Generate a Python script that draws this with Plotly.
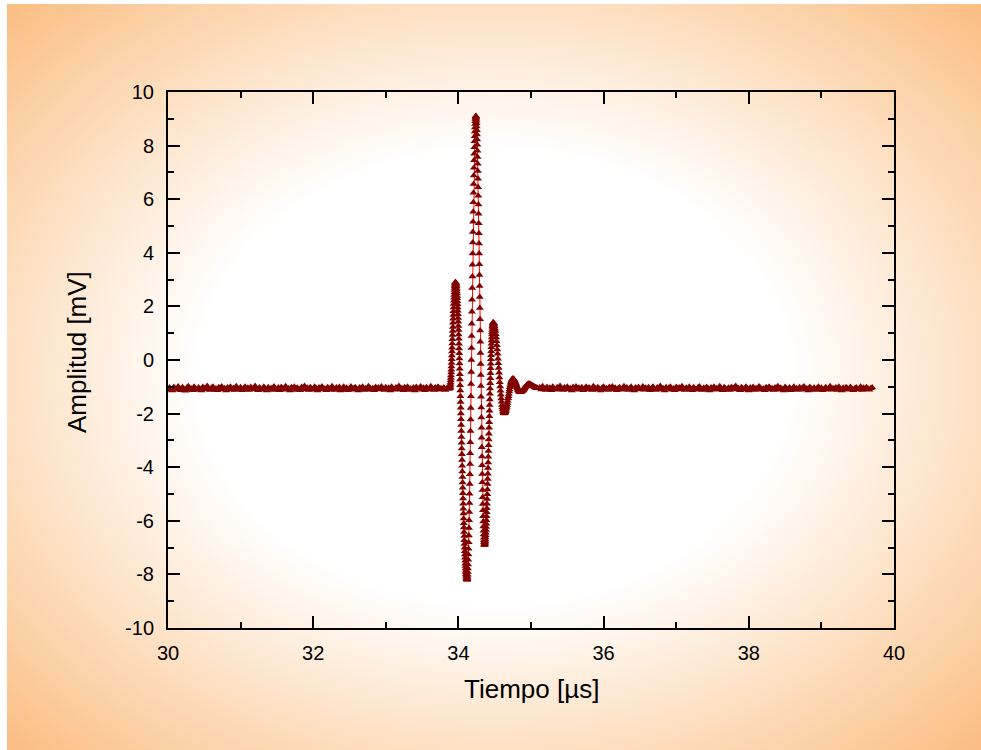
import base64

import numpy as np
import plotly.graph_objects as go

# ---------------------------------------------------------------------------
# Recorded waveform (amplitude in mV), stored per acquisition window.
# Each window has its own start time and sample interval (in µs).
# ---------------------------------------------------------------------------

# quiet baseline before the echo, 30.00 -> 33.84 µs, every 0.02 µs
PRE_T0, PRE_DT = 30.00, 0.02
amp_pre = [
    -1.12, -1.03, -1.09, -1.14, -1.01, -1.07, -1.11, -0.99, -1.05, -1.13,
    -1.02, -1.08, -1.15, -1.04, -0.98, -1.10, -1.06, -1.13, -1.00, -1.08,
    -1.12, -1.03, -1.07, -1.14, -1.01, -1.05, -1.10, -0.97, -1.08, -1.12,
    -1.04, -1.00, -1.11, -1.06, -1.13, -1.02, -1.08, -0.99, -1.10, -1.05,
    -1.14, -1.03, -1.07, -1.00, -1.11, -1.05, -1.12, -0.98, -1.06, -1.09,
    -1.02, -1.13, -1.07, -1.00, -1.10, -1.04, -1.12, -1.01, -1.08, -1.05,
    -0.97, -1.09, -1.13, -1.03, -1.07, -1.11, -1.00, -1.06, -1.14, -1.02,
    -1.08, -1.05, -1.12, -0.99, -1.07, -1.10, -1.03, -1.13, -1.01, -1.06,
    -1.09, -0.98, -1.11, -1.05, -1.14, -1.02, -1.07, -1.00, -1.12, -1.04,
    -1.08, -1.13, -1.01, -1.06, -0.97, -1.10, -1.04, -1.12, -1.02, -1.07,
    -1.11, -1.00, -1.05, -1.14, -1.03, -1.08, -0.99, -1.10, -1.06, -1.13,
    -1.02, -1.07, -1.11, -0.98, -1.05, -1.12, -1.03, -1.09, -1.01, -1.14,
    -1.06, -1.00, -1.10, -1.04, -1.13, -1.07, -0.99, -1.11, -1.05, -1.02,
    -1.09, -1.14, -1.03, -1.07, -1.00, -1.12, -1.06, -1.10, -0.98, -1.04,
    -1.11, -1.05, -1.13, -1.01, -1.08, -1.03, -1.10, -0.99, -1.06, -1.12,
    -1.02, -1.09, -1.04, -1.14, -1.00, -1.07, -1.11, -1.03, -1.08, -0.97,
    -1.10, -1.05, -1.13, -1.02, -1.07, -1.00, -1.12, -1.06, -1.09, -1.03,
    -1.14, -1.01, -1.08, -1.05, -0.99, -1.11, -1.04, -1.13, -1.02, -1.07,
    -1.10, -0.98, -1.06, -1.12, -1.03, -1.09, -1.00, -1.11, -1.05, -1.08,
    -1.03, -1.12, -1.06,
]

# main echo, 33.86 -> 34.48 µs, every 0.002 µs
PULSE_T0, PULSE_DT = 33.86, 0.002
amp_pulse = [
    -1.06, -1.04, -1.05, -1.07, -1.05, -1.03, -1.05, -1.06, -1.04, -1.05,
    -1.05,
    -1.04, -1.03, -1.00, -0.95, -0.90, -0.84, -0.76, -0.67, -0.58, -0.47,
    -0.36, -0.24, -0.11, 0.03, 0.17, 0.32, 0.46, 0.62, 0.77, 0.93,
    1.08, 1.23, 1.39, 1.54, 1.68, 1.82, 1.96, 2.09, 2.21, 2.32,
    2.43, 2.52, 2.61, 2.69, 2.75, 2.80, 2.85, 2.88, 2.89, 2.90,
    2.89, 2.88, 2.86, 2.83, 2.79, 2.75, 2.69, 2.63, 2.56, 2.48,
    2.39, 2.30, 2.19, 2.08, 1.96, 1.84, 1.71, 1.57, 1.43, 1.27,
    1.12, 0.95, 0.79, 0.61, 0.43, 0.25, 0.06, -0.13, -0.33, -0.53,
    -0.73, -0.94, -1.14, -1.35, -1.57, -1.78, -2.00, -2.21, -2.43, -2.65,
    -2.87, -3.09, -3.30, -3.52, -3.73, -3.95, -4.16, -4.37, -4.57, -4.77,
    -4.97, -5.17, -5.36, -5.55, -5.73, -5.91, -6.09, -6.25, -6.42, -6.57,
    -6.73, -6.87, -7.01, -7.14, -7.26, -7.38, -7.49, -7.60, -7.69, -7.78,
    -7.86, -7.93, -7.99, -8.05, -8.09, -8.13, -8.16, -8.18, -8.19, -8.20,
    -8.19, -8.15, -8.09, -8.01, -7.91, -7.78, -7.63, -7.45, -7.26, -7.04,
    -6.80, -6.55, -6.27, -5.98, -5.67, -5.34, -4.99, -4.63, -4.26, -3.88,
    -3.48, -3.07, -2.65, -2.22, -1.79, -1.35, -0.90, -0.45, 0.00, 0.45,
    0.90, 1.35, 1.80, 2.25, 2.69, 3.12, 3.55, 3.97, 4.38, 4.78,
    5.16, 5.53, 5.89, 6.24, 6.57, 6.88, 7.17, 7.45, 7.70, 7.94,
    8.16, 8.35, 8.53, 8.68, 8.81, 8.91, 8.99, 9.05, 9.09, 9.10,
    9.09, 9.06, 9.00, 8.93, 8.83, 8.71, 8.57, 8.41, 8.23, 8.03,
    7.81, 7.57, 7.32, 7.05, 6.76, 6.45, 6.13, 5.80, 5.46, 5.10,
    4.73, 4.35, 3.97, 3.57, 3.17, 2.76, 2.35, 1.94, 1.52, 1.10,
    0.68, 0.26, -0.15, -0.56, -0.97, -1.37, -1.77, -2.15, -2.53, -2.90,
    -3.26, -3.60, -3.93, -4.25, -4.56, -4.85, -5.12, -5.37, -5.61, -5.83,
    -6.03, -6.21, -6.37, -6.51, -6.63, -6.73, -6.80, -6.86, -6.89, -6.90,
    -6.89, -6.88, -6.85, -6.81, -6.76, -6.70, -6.62, -6.54, -6.45, -6.34,
    -6.23, -6.11, -5.98, -5.83, -5.68, -5.53, -5.36, -5.19, -5.01, -4.83,
    -4.63, -4.44, -4.24, -4.03, -3.82, -3.61, -3.40, -3.18, -2.97, -2.75,
    -2.53, -2.32, -2.10, -1.89, -1.68, -1.47, -1.26, -1.06, -0.87, -0.68,
    -0.49, -0.31, -0.14, 0.03, 0.18, 0.33, 0.48, 0.61, 0.73, 0.84,
    0.95, 1.04, 1.12, 1.20, 1.26, 1.31, 1.35, 1.38, 1.39, 1.40,
]

# ring-down after the echo, 34.485 -> 35.09 µs, every 0.005 µs
RING_T0, RING_DT = 34.485, 0.005
amp_ring = [
    1.39, 1.36, 1.32, 1.25, 1.17, 1.08, 0.96, 0.84, 0.70, 0.55,
    0.39, 0.23, 0.05, -0.12, -0.30, -0.48, -0.65, -0.83, -0.99, -1.15,
    -1.30, -1.44, -1.56, -1.68, -1.77, -1.85, -1.92, -1.96, -1.99, -2.00,
    -1.99, -1.98, -1.95, -1.91, -1.87, -1.81, -1.75, -1.68, -1.60, -1.52,
    -1.43, -1.35, -1.27, -1.18, -1.10, -1.02, -0.95, -0.89, -0.83, -0.79,
    -0.75, -0.72, -0.71, -0.70,
    -0.70, -0.71, -0.73, -0.75, -0.77, -0.80, -0.84, -0.87, -0.91, -0.95,
    -0.99, -1.03, -1.06, -1.10, -1.13, -1.15, -1.17, -1.19, -1.20, -1.20,
    -1.20, -1.19, -1.19, -1.18, -1.17, -1.16, -1.14, -1.12, -1.11, -1.09,
    -1.07, -1.05, -1.03, -1.01, -0.99, -0.98, -0.96, -0.94, -0.93, -0.92,
    -0.91, -0.90, -0.90, -0.90,
    -0.90, -0.90, -0.91, -0.91, -0.92, -0.92, -0.93, -0.94, -0.95, -0.96,
    -0.97, -0.98, -0.98, -0.99, -1.00, -1.01, -1.02, -1.03, -1.03, -1.04,
    -1.04, -1.05, -1.05, -1.05,
]

# quiet baseline after the echo, 35.12 -> 39.70 µs, every 0.02 µs
POST_T0, POST_DT = 35.12, 0.02
amp_post = [
    -1.03, -1.10, -0.98, -1.06, -1.12, -1.01, -1.08, -1.04, -1.13, -1.00,
    -1.07, -1.11, -1.02, -1.09, -0.97, -1.05, -1.12, -1.03, -1.08, -1.00,
    -1.10, -1.05, -1.14, -1.01, -1.07, -0.99, -1.11, -1.04, -1.09, -1.02,
    -1.13, -1.06, -1.00, -1.10, -1.03, -1.08, -1.12, -0.98, -1.05, -1.11,
    -1.02, -1.07, -1.14, -1.04, -1.00, -1.09, -1.05, -1.12, -1.01, -1.07,
    -0.99, -1.10, -1.04, -1.13, -1.06, -1.02, -1.11, -1.07, -0.98, -1.08,
    -1.03, -1.12, -1.05, -1.00, -1.09, -1.14, -1.03, -1.07, -1.01, -1.10,
    -1.06, -0.99, -1.11, -1.04, -1.08, -1.02, -1.13, -1.05, -1.00, -1.09,
    -1.12, -1.03, -1.07, -0.97, -1.10, -1.05, -1.14, -1.02, -1.08, -1.04,
    -1.00, -1.11, -1.06, -1.13, -1.01, -1.07, -1.03, -1.10, -0.98, -1.05,
    -1.12, -1.04, -1.09, -1.00, -1.06, -1.13, -1.02, -1.08, -1.11, -1.03,
    -0.99, -1.07, -1.12, -1.04, -1.10, -1.01, -1.06, -1.14, -1.03, -1.08,
    -1.00, -1.11, -1.05, -1.09, -0.98, -1.07, -1.13, -1.02, -1.06, -1.10,
    -1.04, -1.12, -1.01, -1.08, -1.03, -0.97, -1.10, -1.05, -1.13, -1.02,
    -1.07, -1.11, -1.00, -1.06, -1.14, -1.03, -1.09, -1.01, -1.12, -1.05,
    -1.08, -0.99, -1.04, -1.11, -1.06, -1.13, -1.02, -1.07, -1.00, -1.10,
    -1.05, -1.12, -1.03, -1.08, -0.98, -1.11, -1.04, -1.09, -1.14, -1.01,
    -1.06, -1.10, -1.03, -1.13, -1.07, -1.00, -1.09, -1.05, -1.12, -1.02,
    -1.08, -1.04, -0.99, -1.11, -1.06, -1.14, -1.01, -1.07, -1.10, -1.03,
    -1.12, -1.05, -1.00, -1.09, -1.04, -1.13, -1.07, -1.02, -1.10, -1.06,
    -0.98, -1.11, -1.05, -1.08, -1.03, -1.12, -1.00, -1.07, -1.14, -1.04,
    -1.09, -1.02, -1.06, -1.11, -1.01, -1.08, -1.13, -1.05, -1.03, -1.10,
    -1.07, -1.00, -1.12, -1.04, -1.09, -1.02, -1.06, -1.11, -1.05, -1.03,
]

# axis labelling
x_ticks = [30, 32, 34, 36, 38, 40]
y_ticks = [-10, -8, -6, -4, -2, 0, 2, 4, 6, 8, 10]
x_title = "Tiempo [µs]"
y_title = "Amplitud [mV]"


def sample_times(t0, dt, values):
    """Time stamps of a uniformly sampled window."""
    return t0 + dt * np.arange(len(values))


t = np.concatenate([
    sample_times(PRE_T0, PRE_DT, amp_pre),
    sample_times(PULSE_T0, PULSE_DT, amp_pulse),
    sample_times(RING_T0, RING_DT, amp_ring),
    sample_times(POST_T0, POST_DT, amp_post),
])
amp = np.concatenate([amp_pre, amp_pulse, amp_ring, amp_post])

# ---------------------------------------------------------------------------
# Figure
# ---------------------------------------------------------------------------
W, H = 981, 750
M_L, M_R, M_T, M_B = 168, 87, 92, 122
PLOT_W = W - M_L - M_R
PLOT_H = H - M_T - M_B
FONT = "Arial, 'Liberation Sans', Helvetica, sans-serif"

# soft orange vignette behind the whole chart
BG_X0, BG_Y0 = 7, 4  # thin white strip left/top
bg_w, bg_h = W - BG_X0, H - BG_Y0
svg = (
    f'<svg xmlns="http://www.w3.org/2000/svg" width="{bg_w}" height="{bg_h}" '
    f'viewBox="0 0 {bg_w} {bg_h}" preserveAspectRatio="none">'
    '<defs><radialGradient id="g" cx="0.5" cy="0.5" r="0.7071" '
    'gradientUnits="objectBoundingBox">'
    '<stop offset="0" stop-color="#ffffff"/>'
    '<stop offset="0.43" stop-color="#ffffff"/>'
    '<stop offset="0.68" stop-color="#fde3c8"/>'
    '<stop offset="1" stop-color="#fbbd82"/>'
    '</radialGradient></defs>'
    f'<rect width="{bg_w}" height="{bg_h}" fill="url(#g)"/></svg>'
)
bg_src = "data:image/svg+xml;base64," + base64.b64encode(svg.encode()).decode()

fig = go.Figure()
fig.add_trace(go.Scatter(
    x=t, y=amp,
    mode="lines+markers",
    line=dict(color="rgb(255,0,0)", width=1),
    marker=dict(symbol="triangle-up", size=7, color="#800000",
                line=dict(width=0)),
    showlegend=False,
    hoverinfo="skip",
))

axis_style = dict(
    showline=True, linecolor="black", linewidth=2,
    mirror="allticks",
    ticks="inside", ticklen=12, tickwidth=2, tickcolor="black",
    showgrid=False, zeroline=False,
    tickfont=dict(family=FONT, size=20, color="black"),
    minor=dict(ticks="inside", ticklen=6, tickwidth=2, tickcolor="black",
               tickmode="linear", tick0=0, dtick=1, showgrid=False),
)

fig.update_xaxes(
    range=[30, 40],
    tickmode="array", tickvals=x_ticks, ticktext=[str(v) for v in x_ticks],
    ticklabelstandoff=6,
    **axis_style,
)
fig.update_yaxes(
    range=[-10, 10],
    tickmode="array", tickvals=y_ticks, ticktext=[str(v) for v in y_ticks],
    ticklabelstandoff=8,
    **axis_style,
)

fig.add_annotation(
    text=x_title, xref="paper", yref="paper",
    x=(531 - M_L) / PLOT_W, y=(H - M_B - 689) / PLOT_H,
    xanchor="center", yanchor="middle", showarrow=False,
    font=dict(family=FONT, size=26, color="black"),
)
fig.add_annotation(
    text=y_title, xref="paper", yref="paper",
    x=(77 - M_L) / PLOT_W, y=(H - M_B - 352) / PLOT_H,
    xanchor="center", yanchor="middle", textangle=-90, showarrow=False,
    font=dict(family=FONT, size=26, color="black"),
)

fig.add_layout_image(
    source=bg_src, xref="paper", yref="paper",
    x=(BG_X0 - M_L) / PLOT_W, y=(H - M_B - BG_Y0) / PLOT_H,
    sizex=bg_w / PLOT_W, sizey=bg_h / PLOT_H,
    xanchor="left", yanchor="top", sizing="stretch", layer="below",
)

fig.update_layout(
    width=W, height=H,
    margin=dict(l=M_L, r=M_R, t=M_T, b=M_B, pad=0),
    paper_bgcolor="white",
    plot_bgcolor="rgba(0,0,0,0)",
    font=dict(family=FONT, color="black"),
)

fig.write_html("out.html", config={"displayModeBar": False})
